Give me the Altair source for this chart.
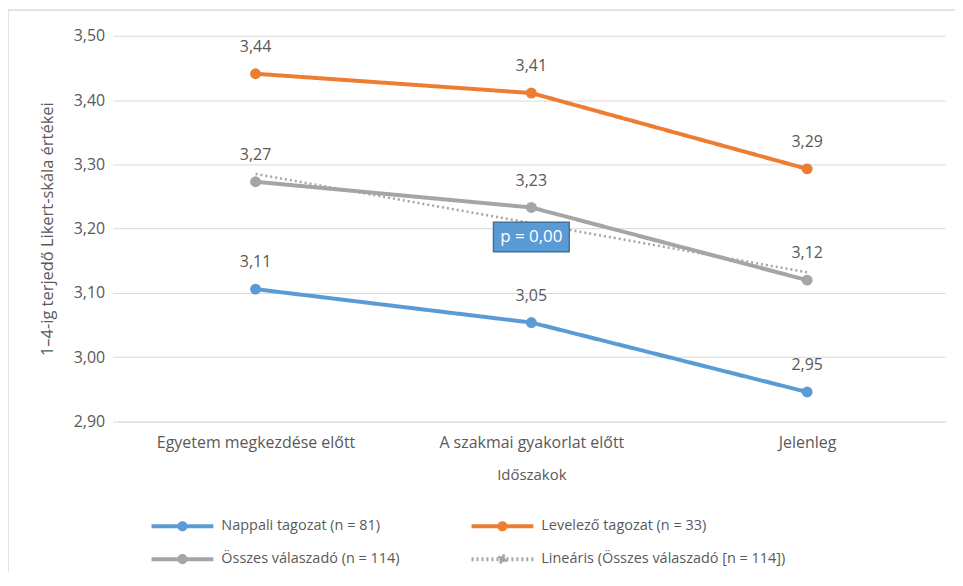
import altair as alt
import pandas as pd

periods = ["Egyetem megkezdése előtt", "A szakmai gyakorlat előtt", "Jelenleg"]
period_idx = [1, 2, 3]
series_names = [
    "Nappali tagozat (n = 81)",
    "Levelező tagozat (n = 33)",
    "Összes válaszadó (n = 114)",
    "Lineáris (Összes válaszadó [n = 114])",
]
nappali = [3.106, 3.054, 2.946]
levelezo = [3.441, 3.411, 3.293]
osszes = [3.273, 3.233, 3.120]
colors = ["#5b9bd5", "#ed7d31", "#a5a5a5", "#a5a5a5"]
dashes = [[1, 0], [1, 0], [1, 0], [2, 3]]
p_text = "p = 0,00"
p_pos = (2, 3.187)

rows = []
for name, vals in zip(series_names[:3], [nappali, levelezo, osszes]):
    for i, v in zip(period_idx, vals):
        rows.append({"s": name, "x": i, "y": v})
df = pd.DataFrame(rows)
df_all = df[df.s == series_names[2]]

FONT = "Open Sans"
TXT = "#595959"

x = alt.X(
    "x:Q",
    scale=alt.Scale(domain=[0.5, 3.5], nice=False, zero=False),
    axis=alt.Axis(
        title="Időszakok",
        values=period_idx,
        labelExpr="datum.value == 1 ? '%s' : datum.value == 2 ? '%s' : '%s'" % tuple(periods),
        grid=False, ticks=False, domain=True, domainColor="#d9d9d9",
        labelPadding=13, titlePadding=17, labelLimit=0, labelOverlap=False,
    ),
)
y = alt.Y(
    "y:Q",
    scale=alt.Scale(domain=[2.9, 3.5], nice=False, zero=False),
    axis=alt.Axis(
        title="1–4-ig terjedő Likert-skála értékei",
        values=[2.9, 3.0, 3.1, 3.2, 3.3, 3.4, 3.5],
        labelExpr="replace(format(datum.value, '.2f'), '.', ',')",
        domain=False, tickSize=5, tickColor="#d9d9d9", labelPadding=8,
        titlePadding=18, gridColor="#d9d9d9", titleFontSize=16.5,
    ),
)
color = alt.Color(
    "s:N",
    scale=alt.Scale(domain=series_names, range=colors),
    legend=alt.Legend(
        title=None, orient="none", legendX=32, legendY=482, columns=2,
        direction="horizontal", clipHeight=20,
        columnPadding=70, rowPadding=13, labelLimit=0,
        symbolType="M-1,0H1M0,-0.1A0.1,0.1,0,1,1,0,0.1A0.1,0.1,0,1,1,0,-0.1",
        symbolSize=3844, symbolStrokeWidth=4, labelFontSize=14.5,
        labelFont=FONT, labelColor=TXT, labelOffset=6,
    ),
)
dash = alt.StrokeDash(
    "s:N",
    scale=alt.Scale(domain=series_names, range=dashes),
    legend=None,
)

frame = alt.Chart(pd.DataFrame({"k": [0]})).mark_rect(
    fill="transparent", stroke="#d9d9d9", strokeWidth=1.5
).encode(
    x=alt.value(-110), x2=alt.value(900), y=alt.value(-26), y2=alt.value(600)
)

base = alt.Chart(df)
lines = base.mark_line(strokeWidth=4).encode(x=x, y=y, color=color, strokeDash=dash)
pts = base.mark_point(filled=True, size=120, opacity=1).encode(x=x, y=y, color=color)
labels = base.transform_calculate(
    lab="replace(format(datum.y, '.2f'), '.', ',')"
).mark_text(dy=-27, fontSize=16, font=FONT, color=TXT).encode(x=x, y=y, text="lab:N")

trend = (
    alt.Chart(df_all)
    .transform_regression("x", "y")
    .transform_calculate(s="'%s'" % series_names[3])
    .mark_line(strokeWidth=2.5)
    .encode(x=x, y=y, color=color, strokeDash=dash)
)

ann = pd.DataFrame({"x": [p_pos[0]], "y": [p_pos[1]], "t": [p_text]})
box = alt.Chart(ann).mark_point(
    shape="M-1,-0.39H1V0.39H-1Z", size=5776, filled=True, fill="#5b9bd5",
    stroke="#41719c", strokeWidth=1.5, opacity=1,
).encode(x=x, y=y)
box_txt = alt.Chart(ann).mark_text(fontSize=17, font=FONT, color="white").encode(
    x=x, y=y, text="t:N"
)

chart = (
    alt.layer(frame, lines, trend, pts, labels, box, box_txt)
    .properties(
        width=830, height=387,
        autosize=alt.AutoSizeParams(type="none"),
        padding={"left": 110, "top": 27, "right": 10, "bottom": 150},
    )
    .configure_view(stroke=None)
    .configure_axis(
        labelFont=FONT, titleFont=FONT, labelColor=TXT, titleColor=TXT,
        labelFontSize=16, titleFontSize=15, titleFontWeight="normal",
    )
)
chart.save("out.html", embed_options={"renderer": "svg", "actions": False})
